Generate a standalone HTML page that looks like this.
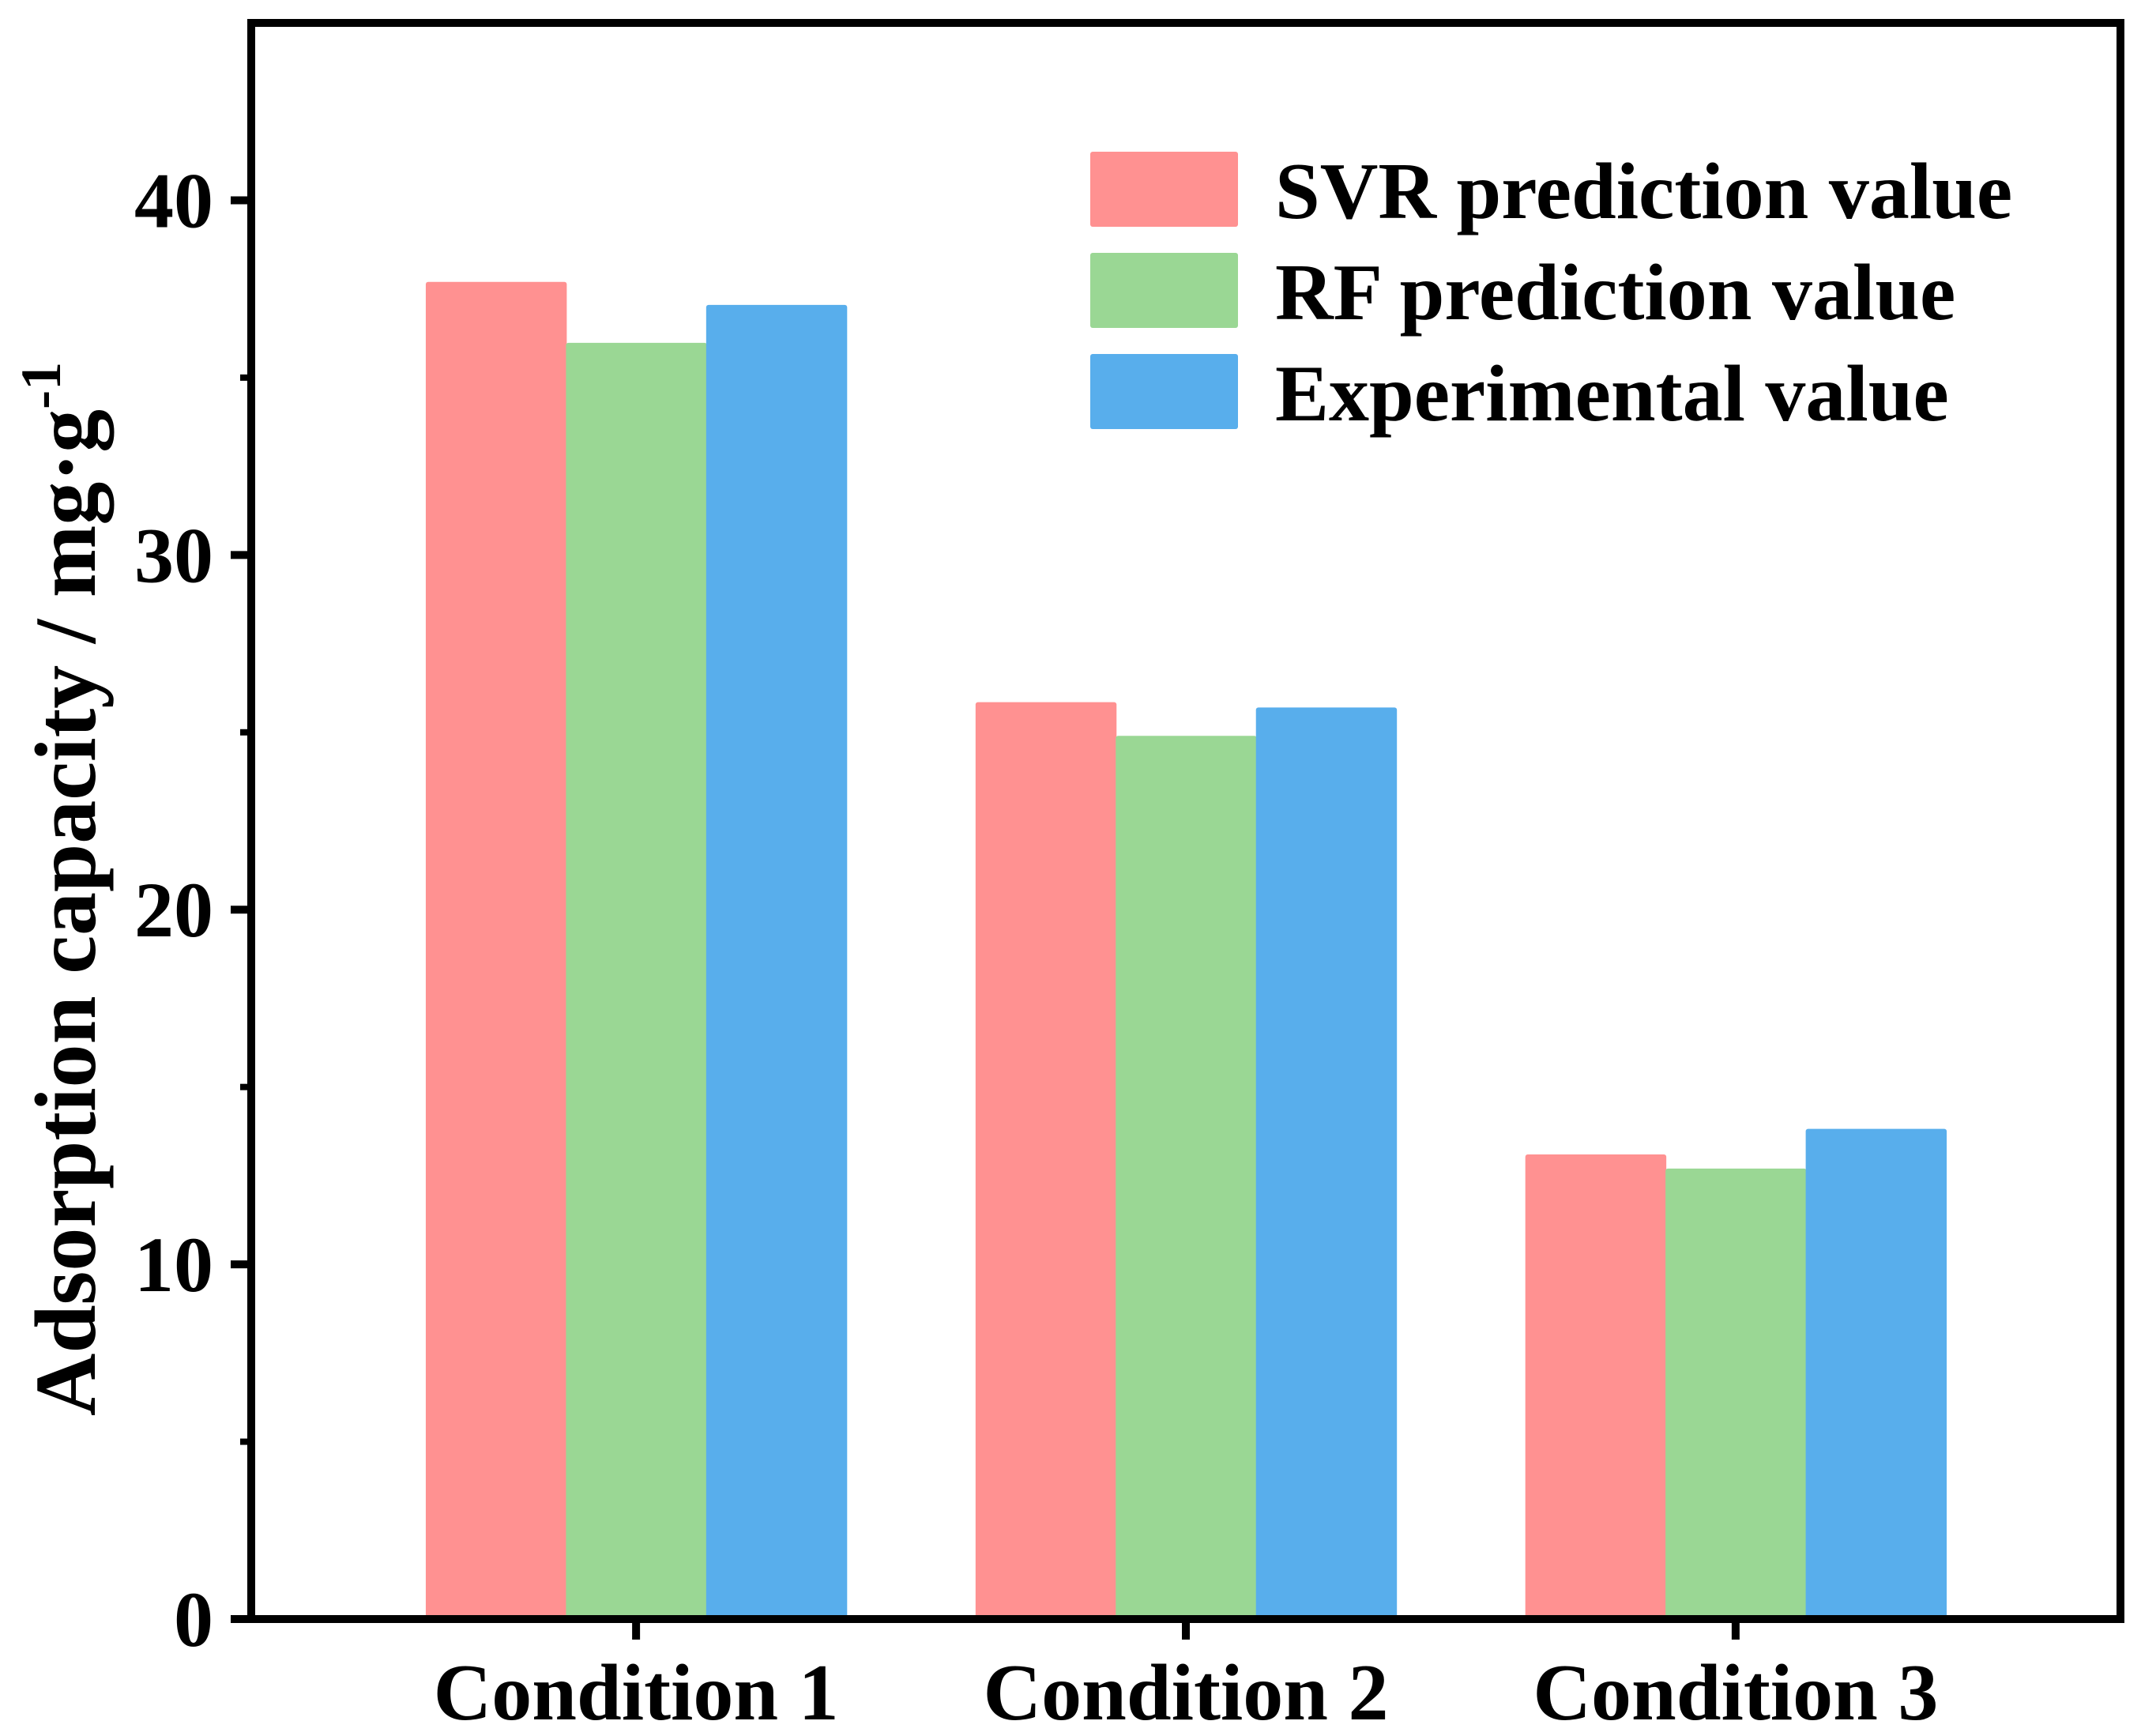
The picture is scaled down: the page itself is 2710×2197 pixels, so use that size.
<!DOCTYPE html>
<html><head><meta charset="utf-8"><style>
html,body{margin:0;padding:0;background:#fff}
svg{display:block}
text{font-family:"Liberation Serif",serif;font-weight:bold;fill:#000}
</style></head><body>
<svg id="chart" width="2710" height="2197" viewBox="0 0 2710 2197">
<g id="bars"></g>
<g id="axes"></g>
<g id="legend"></g>
<text transform="translate(120,1125) rotate(-90)" text-anchor="middle" font-size="110">Adsorption capacity / mg·g<tspan dy="-44" font-size="72">-1</tspan></text>
</svg>
<script>
const categories = ["Condition 1","Condition 2","Condition 3"];
const seriesNames = ["SVR prediction value","RF prediction value","Experimental value"];
const svrValues = [37.7, 25.85, 13.1];
const rfValues = [35.98, 24.9, 12.7];
const expValues = [37.05, 25.7, 13.82];
const yTicks = [0,10,20,30,40];
const yMinorTicks = [5,15,25,35];
const colors = ["#ff9191","#9ad794","#58aeec"];
const series=[svrValues,rfValues,expValues];
const L=318,R=2684,T=29,B=2049,YMAX=45;
const ns="http://www.w3.org/2000/svg";
function y(v){return B-(B-T)*v/YMAX;}
function x(i){return L+(R-L)*(i+0.7)/3.4;}
const bw=(R-L)/3.4*0.255;
function mk(tag,attrs,parent){const e=document.createElementNS(ns,tag);for(const k in attrs)e.setAttribute(k,attrs[k]);parent.appendChild(e);return e;}
const gb=document.getElementById('bars'),ga=document.getElementById('axes'),gl=document.getElementById('legend');
series.forEach((s,si)=>{s.forEach((v,ci)=>{
 const r=mk('rect',{x:x(ci)+(si-1.5)*bw,y:y(v),width:bw+1,height:B-y(v),fill:colors[si],rx:3},gb);
 
 
});});
const frame=mk('rect',{x:L,y:T,width:R-L,height:B-T,fill:'none',stroke:'#000','stroke-width':10},ga);


yTicks.forEach(t=>{
 const l=mk('line',{x1:L-26,x2:L,y1:y(t),y2:y(t),stroke:'#000','stroke-width':10},ga);
 
 
 const tx=mk('text',{x:270,y:y(t)+34,'text-anchor':'end','font-size':100},ga);
 tx.textContent=t;
 
 
});
yMinorTicks.forEach(t=>{
 const l=mk('line',{x1:L-14,x2:L,y1:y(t),y2:y(t),stroke:'#000','stroke-width':8},ga);
 
 
});
categories.forEach((c,i)=>{
 const l=mk('line',{x1:x(i),x2:x(i),y1:B,y2:B+26,stroke:'#000','stroke-width':10},ga);
 
 
 const tx=mk('text',{x:x(i),y:2176,'text-anchor':'middle','font-size':102},ga);
 tx.textContent=c;
 
 
});
seriesNames.forEach((n,i)=>{
 const r=mk('rect',{x:1380,y:192+i*128,width:187,height:95,fill:colors[i],rx:3},gl);
 
 
 const tx=mk('text',{x:1614,y:276+i*128,'font-size':102},gl);
 tx.textContent=n;
 
 
});
</script>
</body></html>
